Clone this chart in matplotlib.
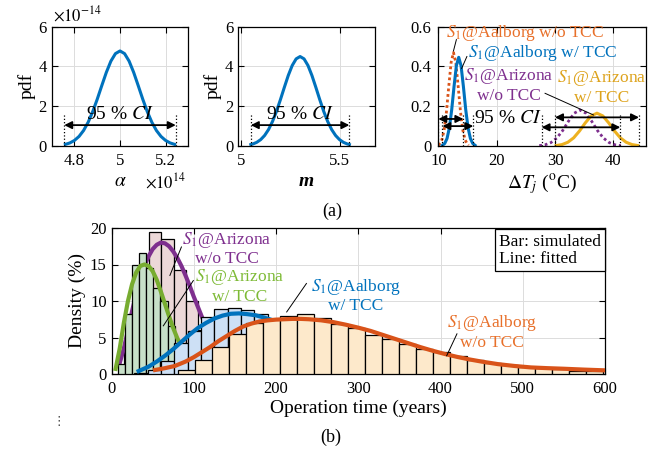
import matplotlib
matplotlib.use('Agg')
import matplotlib.pyplot as plt
import numpy as np

plt.rcParams['font.family'] = ['Liberation Serif', 'DejaVu Serif']
plt.rcParams['mathtext.fontset'] = 'stix'
plt.rcParams['font.size'] = 12

C_BLUE = '#0072BD'; C_ORANGE = '#D95319'; C_YELLOW = '#EDB120'
C_PURPLE = '#7E2F8E'; C_GREEN = '#77AC30'
T_ORANGE = '#E8702A'; T_YELLOW = '#DDA21A'; T_GREEN = '#7DBA35'

# ---------------- (a) pdf curves ----------------
alpha_x = [4.76, 4.78, 4.80, 4.82, 4.84, 4.86, 4.88, 4.90, 4.92, 4.94, 4.96, 4.98, 5.00,
           5.02, 5.04, 5.06, 5.08, 5.10, 5.12, 5.14, 5.16, 5.18, 5.20, 5.22, 5.24]
alpha_pdf = [0.081, 0.155, 0.281, 0.481, 0.779, 1.192, 1.723, 2.353, 3.037, 3.704, 4.268, 4.647, 4.78,
             4.647, 4.268, 3.704, 3.037, 2.353, 1.723, 1.192, 0.779, 0.481, 0.281, 0.155, 0.081]
alpha_ci = [4.755, 5.245]

m_x = [5.05, 5.06, 5.08, 5.10, 5.12, 5.14, 5.16, 5.18, 5.20, 5.22, 5.24, 5.26, 5.28, 5.30,
       5.32, 5.34, 5.36, 5.38, 5.40, 5.42, 5.44, 5.46, 5.48, 5.50, 5.52, 5.54, 5.55]
m_pdf = [0.072, 0.100, 0.184, 0.320, 0.529, 0.829, 1.233, 1.738, 2.325, 2.948, 3.548, 4.049, 4.383, 4.5,
         4.383, 4.049, 3.548, 2.948, 2.325, 1.738, 1.233, 0.829, 0.529, 0.320, 0.184, 0.100, 0.072]
m_ci = [5.05, 5.55]

aal_wo_x = [10.0, 10.2, 10.6, 11.0, 11.4, 11.8, 12.2, 12.6, 13.0, 13.4, 13.8, 14.2, 14.6, 15.0, 15.2]
aal_wo_y = [0.004, 0.009, 0.030, 0.080, 0.173, 0.302, 0.421, 0.47, 0.421, 0.302, 0.173, 0.080, 0.030, 0.009, 0.004]
aal_w_x = [10.7, 11.1, 11.5, 11.9, 12.3, 12.7, 13.1, 13.5, 13.9, 14.3, 14.7, 15.1, 15.5, 15.9, 16.3]
aal_w_y = [0.0035, 0.0127, 0.038, 0.092, 0.183, 0.300, 0.404, 0.446, 0.404, 0.300, 0.183, 0.092, 0.038, 0.0127, 0.0035]
ari_wo_x = [27.3, 28.3, 29.3, 30.3, 31.3, 32.3, 33.3, 34.3, 35.3, 36.3, 37.3, 38.3, 39.3, 40.3, 41.3]
ari_wo_y = [0.0018, 0.006, 0.017, 0.040, 0.077, 0.124, 0.165, 0.181, 0.165, 0.124, 0.077, 0.040, 0.017, 0.006, 0.0018]
ari_w_x = [30.2, 31.2, 32.2, 33.2, 34.2, 35.2, 36.2, 37.2, 38.2, 39.2, 40.2, 41.2, 42.2, 43.2, 44.2]
ari_w_y = [0.0023, 0.0072, 0.0188, 0.041, 0.0755, 0.1166, 0.1513, 0.165, 0.1513, 0.1166, 0.0755, 0.041, 0.0188, 0.0072, 0.0023]
# CI ranges and arrow heights
ci_aal_wo = [10.0, 14.3, 0.136]
ci_aal_w = [10.7, 16.0, 0.100]
ci_ari_wo = [27.7, 41.2, 0.094]
ci_ari_w = [30.0, 44.4, 0.144]

# ---------------- (b) histograms ----------------
green_left = [7.9, 16.5, 25.1, 33.7, 42.3, 50.9, 59.5, 68.1, 76.7, 85.3]
green_h = [1.4, 8.2, 15.0, 16.6, 14.5, 11.8, 10.0, 6.6, 3.5, 1.8]
green_w = 8.6
pink_left = [15.0, 30.1, 45.2, 60.3, 75.4, 90.5, 105.6, 120.7, 135.8, 150.9]
pink_h = [3.5, 12.5, 19.5, 18.5, 14.3, 10.0, 6.0, 3.0, 1.5, 0.7]
pink_w = 15.1
blue_left = [27.8, 44.0, 60.2, 76.4, 92.6, 108.8, 125.0, 141.2, 157.4, 173.6, 189.8, 206.0, 222.2,
             238.4, 254.6, 270.8, 287.0, 303.2, 319.4, 335.6, 351.8, 368.0, 384.2, 400.4, 416.6]
blue_h = [0.15, 0.6, 1.8, 4.2, 5.9, 7.75, 8.9, 9.1, 8.7, 8.2, 7.3, 6.5, 5.6,
          4.8, 4.0, 3.2, 2.5, 1.9, 1.4, 1.0, 0.7, 0.5, 0.35, 0.25, 0.15]
blue_w = 16.2
orange_left = [81.2, 101.9, 122.5, 143.2, 163.9, 184.6, 205.2, 225.9, 246.6, 267.2, 287.9, 308.6, 329.2,
               349.9, 370.6, 391.3, 411.9, 432.6, 453.3, 473.9, 494.6, 515.3, 535.9, 556.6, 577.3]
orange_h = [0.6, 1.9, 3.7, 5.5, 7.0, 7.5, 8.0, 8.2, 7.7, 6.9, 6.3, 5.4, 4.75,
            4.1, 3.4, 3.0, 2.4, 1.9, 1.55, 1.25, 1.0, 0.85, 0.65, 0.45, 0.37]
orange_w = 20.67

green_fit_x = [5, 10, 15, 20, 25, 30, 35, 40, 45, 50, 55, 60, 65, 70, 75, 80, 85, 90, 100, 110, 120, 135, 152]
green_fit_y = [0.7, 3.5, 7.0, 10.0, 12.3, 13.9, 14.8, 15.0, 14.8, 14.1, 12.9, 11.3, 9.6, 7.9, 6.3, 4.9, 3.8, 2.9, 1.5, 0.7, 0.3, 0.1, 0.0]
purple_fit_x = [10, 15, 20, 25, 30, 35, 40, 45, 50, 55, 60, 65, 70, 75, 80, 85, 90, 95, 100, 105, 110, 115, 125, 140, 160, 190, 236]
purple_fit_y = [1.5, 3.5, 6.0, 8.6, 11.0, 13.1, 14.8, 16.1, 17.1, 17.7, 18.0, 17.9, 17.5, 16.8, 15.9, 14.8, 13.5, 12.1, 10.6, 9.2, 7.8, 6.5, 4.2, 2.0, 0.7, 0.15, 0.0]
blue_fit_x = [33, 45, 55, 65, 75, 85, 95, 105, 115, 125, 135, 145, 155, 165, 175, 185, 195, 210, 230, 260, 300, 350, 400, 446]
blue_fit_y = [0.4, 1.0, 1.7, 2.5, 3.4, 4.4, 5.4, 6.3, 7.0, 7.6, 8.0, 8.25, 8.3, 8.2, 8.05, 7.75, 7.4, 6.8, 5.8, 4.1, 2.3, 1.0, 0.4, 0.15]
orange_fit_x = [53, 65, 77, 90, 100, 110, 120, 130, 140, 150, 160, 170, 180, 190, 200, 210, 220, 230, 240, 255,
                270, 285, 300, 315, 330, 345, 360, 375, 390, 405, 420, 435, 450, 470, 490, 510, 530, 550, 575, 600]
orange_fit_y = [0.55, 0.8, 1.1, 1.7, 2.3, 3.0, 3.7, 4.5, 5.2, 5.9, 6.5, 6.9, 7.2, 7.35, 7.45, 7.5, 7.55, 7.55, 7.5, 7.35,
                7.1, 6.75, 6.35, 5.9, 5.35, 4.8, 4.25, 3.7, 3.2, 2.75, 2.35, 2.0, 1.7, 1.35, 1.1, 0.9, 0.8, 0.72, 0.6, 0.5]

W, H = 657, 454
fig = plt.figure(figsize=(W / 100, H / 100), dpi=100)


def axpos(l, t, r, b):
    return [l / W, 1 - b / H, (r - l) / W, (b - t) / H]


def style(ax):
    ax.tick_params(direction='in', length=4, top=True, right=True, labelsize=12, width=0.8)
    ax.tick_params(axis='x', pad=5)
    ax.grid(True, color='#dcdcdc', lw=0.7)
    ax.set_axisbelow(True)
    for s in ax.spines.values():
        s.set_linewidth(0.9)


def ci(ax, x0, x1, y, vtop):
    ax.plot([x0, x0], [0, vtop], color='k', ls=':', lw=0.9)
    ax.plot([x1, x1], [0, vtop], color='k', ls=':', lw=0.9)
    ax.annotate('', xy=(x1, y), xytext=(x0, y),
                arrowprops=dict(arrowstyle='<|-|>', color='k', lw=1.3, shrinkA=0, shrinkB=0, mutation_scale=11))


ci_label = '95 % $\\mathit{CI}$'

# panel 1
ax1 = fig.add_axes(axpos(51.7, 26.7, 188.3, 146))
style(ax1)
ax1.plot(alpha_x, alpha_pdf, color=C_BLUE, lw=2.2)
ci(ax1, alpha_ci[0], alpha_ci[1], 1.05, 1.65)
ax1.text(5.0, 1.15, ci_label, ha='center', va='bottom', fontsize=14)
ax1.set_xlim(4.7, 5.3)
ax1.set_ylim(0, 6)
ax1.set_xticks([4.8, 5.0, 5.2]); ax1.set_xticklabels(['4.8', '5', '5.2'])
ax1.set_yticks([0, 2, 4, 6]); ax1.set_yticklabels(['0', '2', '4', '6'])
ax1.set_ylabel('pdf', fontsize=14, labelpad=2)
ax1.set_xlabel('$\\alpha$', fontsize=14, labelpad=3)
ax1.text(0.01, 1.1, '$\\times10^{-14}$', transform=ax1.transAxes, ha='left', va='center', fontsize=12)
ax1.text(0.68, -0.3, '$\\times10^{14}$', transform=ax1.transAxes, ha='left', va='center', fontsize=12)

# panel 2
ax2 = fig.add_axes(axpos(238, 26.7, 375, 146))
style(ax2)
ax2.plot(m_x, m_pdf, color=C_BLUE, lw=2.2)
ci(ax2, m_ci[0], m_ci[1], 1.05, 1.65)
ax2.text(5.3, 1.15, ci_label, ha='center', va='bottom', fontsize=14)
ax2.set_xlim(4.985, 5.68)
ax2.set_ylim(0, 6)
ax2.set_xticks([5.0, 5.5]); ax2.set_xticklabels(['5', '5.5'])
ax2.set_yticks([0, 2, 4, 6]); ax2.set_yticklabels(['0', '2', '4', '6'])
ax2.set_ylabel('pdf', fontsize=14, labelpad=2)
ax2.set_xlabel('m', fontsize=14, style='italic', weight='bold', labelpad=3)

# panel 3
ax3 = fig.add_axes(axpos(438.3, 26.7, 646, 146))
style(ax3)
ax3.plot(aal_wo_x, aal_wo_y, color=C_ORANGE, lw=2.0, ls=(0, (1, 1)))
ax3.plot(aal_w_x, aal_w_y, color=C_BLUE, lw=2.2)
ax3.plot(ari_wo_x, ari_wo_y, color=C_PURPLE, lw=2.0, ls=(0, (1, 1)))
ax3.plot(ari_w_x, ari_w_y, color=C_YELLOW, lw=2.2)
for c in (ci_aal_wo, ci_aal_w, ci_ari_wo, ci_ari_w):
    ci(ax3, c[0], c[1], c[2], 0.165)
ax3.text(21.9, 0.139, ci_label, ha='center', va='center', fontsize=14)
ax3.text(11.4, 0.57, '$S_1$@Aalborg w/o TCC', color=T_ORANGE, ha='left', va='center', fontsize=12.5)
ax3.plot([13.1, 12.6], [0.535, 0.478], color='k', lw=0.7)
ax3.text(15.1, 0.466, '$S_1$@Aalborg w/ TCC', color=C_BLUE, ha='left', va='center', fontsize=12.5)
ax3.plot([14.9, 14.0], [0.45, 0.39], color='k', lw=0.7)
ax3.text(22.1, 0.307, '$S_1$@Arizona\nw/o TCC', color=C_PURPLE, ha='center', va='center',
         fontsize=12.5, linespacing=1.15)
ax3.plot([28.3, 36.6], [0.265, 0.156], color='k', lw=0.7)
ax3.text(37.95, 0.295, '$S_1$@Arizona\nw/ TCC', color=T_YELLOW, ha='center', va='center',
         fontsize=12.5, linespacing=1.15)
ax3.set_xlim(10, 45.6)
ax3.set_ylim(0, 0.6)
ax3.set_xticks([10, 20, 30, 40])
ax3.set_yticks([0, 0.2, 0.4, 0.6]); ax3.set_yticklabels(['0', '0.2', '0.4', '0.6'])
ax3.tick_params(axis='y', pad=5)
ax3.set_xlabel('$\\Delta T_j$ ($^{\\rm o}$C)', fontsize=14, labelpad=3)

fig.text(332 / W, 1 - 211 / H, '(a)', ha='center', va='center', fontsize=13)

# ---------------- (b) ----------------
ax4 = fig.add_axes(axpos(111.5, 228, 605, 374))
style(ax4)
ek = dict(edgecolor='k', linewidth=0.9, align='edge')
ax4.bar(pink_left, pink_h, width=pink_w, color='#ecd8d8', zorder=1, **ek)
ax4.plot(purple_fit_x, purple_fit_y, color=C_PURPLE, lw=3, zorder=2)
ax4.bar(green_left, green_h, width=green_w, color='#c7e0c9', zorder=3, **ek)
ax4.plot(green_fit_x, green_fit_y, color=C_GREEN, lw=3, zorder=4)
ax4.bar(blue_left, blue_h, width=blue_w, color='#cde0f5', zorder=5, **ek)
ax4.plot(blue_fit_x, blue_fit_y, color=C_BLUE, lw=3, zorder=6)
ax4.bar(orange_left, orange_h, width=orange_w, color='#fde9cb', zorder=7, **ek)
ax4.plot(orange_fit_x, orange_fit_y, color=C_ORANGE, lw=3, zorder=8)

ann = dict(fontsize=12.5, ha='center', va='center', linespacing=1.15, zorder=10)
ax4.text(140, 17.2, '$S_1$@Arizona\nw/o TCC', color=C_PURPLE, **ann)
ax4.plot([85, 71], [17.4, 13.5], color='k', lw=0.7, zorder=9)
ax4.text(156, 12.05, '$S_1$@Arizona\nw/ TCC', color=T_GREEN, **ann)
ax4.plot([99.5, 63], [12.8, 6.6], color='k', lw=0.7, zorder=9)
ax4.text(297, 10.75, '$S_1$@Aalborg\nw/ TCC', color=C_BLUE, **ann)
ax4.plot([237, 213], [12.4, 8.5], color='k', lw=0.7, zorder=9)
ax4.text(463, 5.7, '$S_1$@Aalborg\nw/o TCC', color=T_ORANGE, **ann)
ax4.plot([420, 407.5], [5.5, 2.5], color='k', lw=0.7, zorder=9)

ax4.text(0.992, 0.962, 'Bar: simulated\nLine: fitted', transform=ax4.transAxes, ha='right', va='top',
         multialignment='left', fontsize=12.5, linespacing=1.1, zorder=11,
         bbox=dict(boxstyle='square,pad=0.25', facecolor='white', edgecolor='k', lw=0.9))

ax4.set_xlim(0, 600)
ax4.set_ylim(0, 20)
ax4.set_xticks([0, 100, 200, 300, 400, 500, 600])
ax4.set_yticks([0, 5, 10, 15, 20])
ax4.set_xlabel('Operation time (years)', fontsize=14, labelpad=2)
ax4.set_ylabel('Density (%)', fontsize=14, labelpad=3)

fig.text(331 / W, 1 - 437 / H, '(b)', ha='center', va='center', fontsize=13)
fig.text(58.5 / W, 1 - 421 / H, '\u22ee', ha='center', va='center', fontsize=9, color='#444444',
         family='DejaVu Sans')

fig.savefig('out.png', dpi=100)
